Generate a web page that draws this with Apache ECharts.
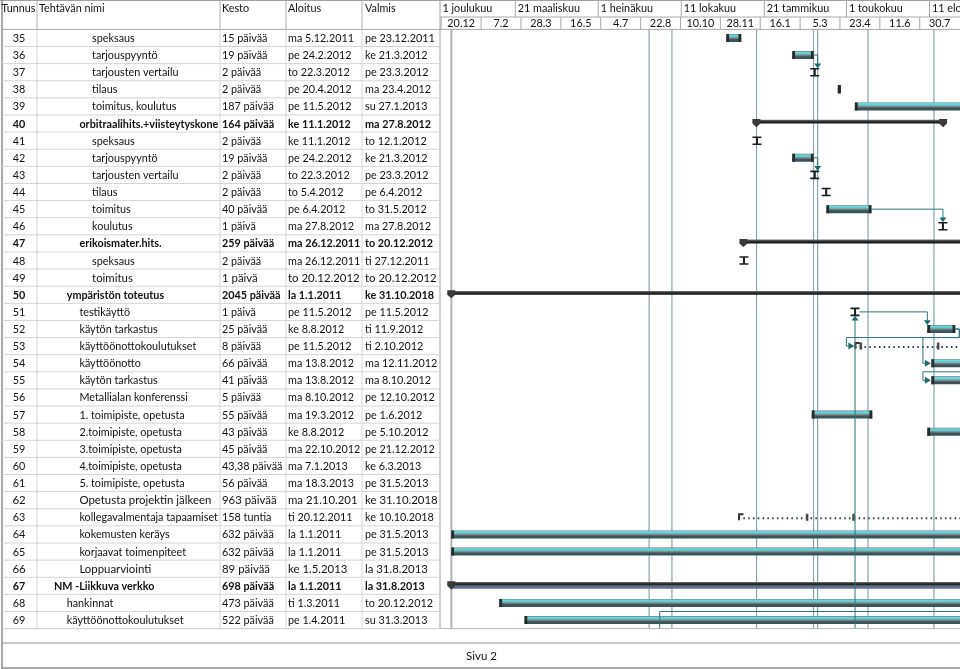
<!DOCTYPE html>
<html><head><meta charset="utf-8">
<script src="https://cdn.jsdelivr.net/npm/echarts@6/dist/echarts.min.js"></script>
<style>html,body{margin:0;padding:0;background:#fff}#c{width:960px;height:669px}</style>
</head><body><div id="c"></div>
<script>
// ---------------- data ----------------
const ids = [35,36,37,38,39,40,41,42,43,44,45,46,47,48,49,50,51,52,53,54,55,56,57,58,59,60,61,62,63,64,65,66,67,68,69];
const names = ['speksaus','tarjouspyyntö','tarjousten vertailu','tilaus','toimitus, koulutus','orbitraalihits.+viisteytyskone',
  'speksaus','tarjouspyyntö','tarjousten vertailu','tilaus','toimitus','koulutus','erikoismater.hits.','speksaus','toimitus',
  'ympäristön toteutus','testikäyttö','käytön tarkastus','käyttöönottokoulutukset','käyttöönotto','käytön tarkastus',
  'Metallialan konferenssi','1. toimipiste, opetusta','2.toimipiste, opetusta','3.toimipiste, opetusta','4.toimipiste, opetusta',
  '5. toimipiste, opetusta','Opetusta projektin jälkeen','kollegavalmentaja tapaamiset','kokemusten keräys','korjaavat toimenpiteet',
  'Loppuarviointi','NM -Liikkuva verkko','hankinnat','käyttöönottokoulutukset'];
const durations = ['15 päivää','19 päivää','2 päivää','2 päivää','187 päivää','164 päivää','2 päivää','19 päivää','2 päivää','2 päivää',
  '40 päivää','1 päivä','259 päivää','2 päivää','1 päivä','2045 päivää','1 päivä','25 päivää','8 päivää','66 päivää','41 päivää',
  '5 päivää','55 päivää','43 päivää','45 päivää','43,38 päivää','56 päivää','963 päivää','158 tuntia','632 päivää','632 päivää',
  '89 päivää','698 päivää','473 päivää','522 päivää'];
const startTexts = ['ma 5.12.2011','pe 24.2.2012','to 22.3.2012','pe 20.4.2012','pe 11.5.2012','ke 11.1.2012','ke 11.1.2012',
  'pe 24.2.2012','to 22.3.2012','to 5.4.2012','pe 6.4.2012','ma 27.8.2012','ma 26.12.2011','ma 26.12.2011','to 20.12.2012',
  'la 1.1.2011','pe 11.5.2012','ke 8.8.2012','pe 11.5.2012','ma 13.8.2012','ma 13.8.2012','ma 8.10.2012','ma 19.3.2012',
  'ke 8.8.2012','ma 22.10.2012','ma 7.1.2013','ma 18.3.2013','ma 21.10.2013','ti 20.12.2011','la 1.1.2011','la 1.1.2011',
  'ke 1.5.2013','la 1.1.2011','ti 1.3.2011','pe 1.4.2011'];
const endTexts = ['pe 23.12.2011','ke 21.3.2012','pe 23.3.2012','ma 23.4.2012','su 27.1.2013','ma 27.8.2012','to 12.1.2012',
  'ke 21.3.2012','pe 23.3.2012','pe 6.4.2012','to 31.5.2012','ma 27.8.2012','to 20.12.2012','ti 27.12.2011','to 20.12.2012',
  'ke 31.10.2018','pe 11.5.2012','ti 11.9.2012','ti 2.10.2012','ma 12.11.2012','ma 8.10.2012','pe 12.10.2012','pe 1.6.2012',
  'pe 5.10.2012','pe 21.12.2012','ke 6.3.2013','pe 31.5.2013','ke 31.10.2018','ke 10.10.2018','pe 31.5.2013','pe 31.5.2013',
  'la 31.8.2013','la 31.8.2013','to 20.12.2012','su 31.3.2013'];
const outlineLevels = [4,4,4,4,4,3,4,4,4,4,4,4,3,4,4,2,3,3,3,3,3,3,3,3,3,3,3,3,3,3,3,3,1,2,2];
const summaryRows = [40,47,50,67];
const largeTextRows = [49,62,66];
const splitRows = [53,63];
const splitPieces = {53: [['11.5.2012','11.5.2012'],['18.5.2012','18.5.2012'],['21.8.2012','21.8.2012']],
                     63: [['20.12.2011','20.12.2011'],['13.3.2012','13.3.2012'],['9.5.2012','9.5.2012']]};
const links = [[36,37],[42,43],[45,46],[51,52],[52,53],[52,54],[54,55]];
const incomingFromBelow = [51];
const outgoingFromBelow = [{date:'14.9.2011', row:69}];
const linkLineDates = ['1.9.2011','29.9.2011','11.1.2012','21.3.2012','26.3.2012','27.5.2012','16.8.2012'];
const projectStartDate = '1.1.2011';
const columnTitles = ['Tunnus','Tehtävän nimi','Kesto','Aloitus','Valmis'];
const majorTickDates = ['1.12.2010','21.3.2011','1.7.2011','11.10.2011','21.1.2012','1.5.2012','11.8.2012'];
const majorTickLabels = ['1 joulukuu','21 maaliskuu','1 heinäkuu','11 lokakuu','21 tammikuu','1 toukokuu','11 elokuu'];
const minorTickDates = ['20.12.2010','7.2.2011','28.3.2011','16.5.2011','4.7.2011','22.8.2011','10.10.2011','28.11.2011',
  '16.1.2012','5.3.2012','23.4.2012','11.6.2012','30.7.2012'];
const minorTickLabels = ['20.12','7.2','28.3','16.5','4.7','22.8','10.10','28.11','16.1','5.3','23.4','11.6','30.7'];
const footerText = 'Sivu 2';

// ---------------- helpers ----------------
const DAY = 86400000;
function parseDate(txt, hour) {
  const m = txt.match(/(\d{1,2})\.(\d{1,2})\.(\d{4})/);
  return Date.UTC(+m[3], +m[2] - 1, +m[1], hour || 0);
}
const axisMin = Date.UTC(2010, 11, 18, 12);
const axisMax = Date.UTC(2012, 8, 17, 12);
const TOP = 29.4, H = 599.2, BAND = H / ids.length;
const GL = 440, GR = 960;
const FONT = "Lato, 'Open Sans', sans-serif";
const TXT = '#111';

const barFill = () => new echarts.graphic.LinearGradient(0, 0, 0, 1, [
  {offset: 0, color: '#5f7477'}, {offset: 0.14, color: '#72d8dc'}, {offset: 0.38, color: '#5cc3c8'},
  {offset: 0.5, color: '#7f898b'}, {offset: 0.72, color: '#454f51'}, {offset: 1, color: '#2a5c62'}]);
const sumFill = () => new echarts.graphic.LinearGradient(0, 0, 0, 1, [
  {offset: 0, color: '#777'}, {offset: 0.4, color: '#333'}, {offset: 1, color: '#111'}]);

function isShort(i) {
  return parseDate(endTexts[i], 17) - parseDate(startTexts[i], 8) < 2 * DAY;
}

// ---------------- table ----------------
function renderTableRow(params, api) {
  const i = params.dataIndex;
  const y = api.coord([0, i])[1];
  const id = ids[i];
  const bold = summaryRows.includes(id);
  const big = largeTextRows.includes(id);
  const fs = big ? 11.4 : 10.8;
  const font = (bold ? 'bold ' : '') + fs + 'px ' + FONT;
  const nameX = 54 + (outlineLevels[i] - 1) * 12.7;
  const mk = (text, x, w, align) => {
    const st = {text, x, y: y + 0.5, font, fill: TXT, align: align || 'left', verticalAlign: 'middle'};
    if (w) { st.width = w; st.overflow = 'truncate'; st.ellipsis = ''; }
    return {type: 'text', silent: true, style: st};
  };
  return {type: 'group', children: [
    {type: 'line', silent: true, shape: {x1: 2, y1: y + BAND / 2, x2: GL, y2: y + BAND / 2}, style: {stroke: '#d4d4d4', lineWidth: 1}},
    mk(String(id), 19, 0, 'center'),
    mk(names[i], nameX, 221 - nameX),
    mk(durations[i], 222, 64),
    mk(startTexts[i], 288, 75),
    mk(endTexts[i], 365, 76)
  ]};
}

// ---------------- gantt tasks ----------------
function renderTask(params, api) {
  const i = params.dataIndex;
  const id = ids[i];
  const s = parseDate(startTexts[i], 8), e = parseDate(endTexts[i], 17);
  const p0 = api.coord([s, i]);
  const x0 = p0[0], y = p0[1];
  const x1 = api.coord([e, i])[0];
  const ch = [];
  if (summaryRows.includes(id)) {
    ch.push({type: 'rect', shape: {x: x0, y: y - 3.8, width: x1 - x0, height: 3.8}, style: {fill: sumFill()}});
    if (outlineLevels[i] === 1) {
      ch.push({type: 'rect', shape: {x: x0, y: y, width: x1 - x0, height: 3}, style: {fill: '#5f6f98'}});
    }
    [x0, x1].forEach(x => ch.push({type: 'polygon', shape: {points: [[x - 4, y - 4.5], [x + 4, y - 4.5], [x + 4, y], [x, y + 3.6], [x - 4, y]]}, style: {fill: '#3a3a3a'}}));
  } else if (splitRows.includes(id)) {
    ch.push({type: 'line', shape: {x1: x0, y1: y + 1, x2: x1, y2: y + 1}, style: {stroke: '#2f4a4d', lineWidth: 2, lineDash: [1.6, 3.2]}});
    (splitPieces[id] || []).forEach((pc, k) => {
      const a = api.coord([parseDate(pc[0], 8), i])[0];
      if (k === 0) {
        ch.push({type: 'polyline', shape: {points: [[a + 0.5, y + 3], [a + 0.5, y - 3], [a + 5, y - 3]]}, style: {stroke: '#333', lineWidth: 2, fill: null}});
      } else {
        ch.push({type: 'rect', shape: {x: a - 1, y: y - 3.5, width: 2.5, height: 7}, style: {fill: '#4a4a4a'}});
      }
    });
  } else if (isShort(i)) {
    const c = (x0 + x1) / 2;
    const st = {stroke: '#1c1c1c', lineWidth: 1.6};
    ch.push({type: 'line', shape: {x1: c - 4.5, y1: y - 3.5, x2: c + 4.5, y2: y - 3.5}, style: st});
    ch.push({type: 'line', shape: {x1: c - 4.5, y1: y + 3.5, x2: c + 4.5, y2: y + 3.5}, style: st});
    ch.push({type: 'line', shape: {x1: c, y1: y - 3.5, x2: c, y2: y + 3.5}, style: {stroke: '#1c1c1c', lineWidth: 2}});
  } else {
    const w = Math.max(x1 - x0, 3);
    ch.push({type: 'rect', shape: {x: x0, y: y - 4, width: w, height: 8}, style: {fill: barFill()}});
    ch.push({type: 'rect', shape: {x: x0, y: y - 4, width: 2.8, height: 8}, style: {fill: '#2a2a2a'}});
    ch.push({type: 'rect', shape: {x: x0 + w - 2.8, y: y - 4, width: 2.8, height: 8}, style: {fill: '#2a2a2a'}});
  }
  return {type: 'group', children: ch};
}

// ---------------- link lines ----------------
const LINK = '#2d7479', ARROW = '#1d6a70';
function geom(api, id) {
  const i = ids.indexOf(id);
  const s = parseDate(startTexts[i], 8), e = parseDate(endTexts[i], 17);
  const y = api.coord([s, i])[1];
  let xs = api.coord([s, i])[0], xe = api.coord([e, i])[0], xin = xs;
  if (isShort(i)) { const c = (xs + xe) / 2; xin = c; xe = c + 4.5; }
  return {s, e, xs, xe, xin, y};
}
const linkItems = links.map(l => ({kind: 'fs', from: l[0], to: l[1]}))
  .concat(incomingFromBelow.map(r => ({kind: 'below', to: r})))
  .concat(outgoingFromBelow.map(o => ({kind: 'belowRight', date: o.date, row: o.row})));

function renderLink(params, api) {
  const it = linkItems[params.dataIndex];
  const cs = params.coordSys;
  const bottom = cs.y + cs.height;
  const ch = [];
  const ls = {stroke: LINK, lineWidth: 1, fill: null};
  if (it.kind === 'fs') {
    const p = geom(api, it.from), q = geom(api, it.to);
    if (q.s >= p.e) {
      const xa = Math.max(q.xin, p.xe + 4);
      ch.push({type: 'polyline', shape: {points: [[p.xe, p.y], [xa, p.y], [xa, q.y - 8]]}, style: ls});
      ch.push({type: 'polygon', shape: {points: [[xa - 3.5, q.y - 8.8], [xa + 3.5, q.y - 8.8], [xa, q.y - 4]]}, style: {fill: ARROW}});
    } else {
      const xr = p.xe + 4, ym = p.y + BAND / 2, xb = q.xin - 8.5;
      ch.push({type: 'polyline', shape: {points: [[p.xe, p.y], [xr, p.y], [xr, ym], [xb, ym], [xb, q.y], [q.xin - 6, q.y]]}, style: ls});
      ch.push({type: 'polygon', shape: {points: [[q.xin - 6.5, q.y - 3.5], [q.xin - 6.5, q.y + 3.5], [q.xin - 0.5, q.y]]}, style: {fill: ARROW}});
    }
  } else if (it.kind === 'below') {
    const q = geom(api, it.to);
    ch.push({type: 'line', shape: {x1: q.xin, y1: bottom, x2: q.xin, y2: q.y + 8}, style: ls});
    ch.push({type: 'polygon', shape: {points: [[q.xin - 3.5, q.y + 8.5], [q.xin + 3.5, q.y + 8.5], [q.xin, q.y + 3.8]]}, style: {fill: ARROW}});
  } else {
    const i = ids.indexOf(it.row);
    const pt = api.coord([parseDate(it.date, 12), i]);
    const yb = pt[1] - BAND / 2;
    ch.push({type: 'polyline', shape: {points: [[pt[0], bottom], [pt[0], yb], [cs.x + cs.width, yb]]}, style: ls});
  }
  return {type: 'group', children: ch};
}

function renderVLine(params, api) {
  const cs = params.coordSys;
  const x = api.coord([api.value(0), 0])[0];
  const isStart = params.dataIndex === linkLineDates.length;
  return {type: 'line', shape: {x1: x, y1: cs.y, x2: x, y2: cs.y + cs.height},
    style: {stroke: isStart ? '#b4b4b4' : '#86a6ac', lineWidth: isStart ? 2 : 1.2}};
}

// ---------------- timescale header ----------------
const headerCells = majorTickDates.map((d, k) => ({tier: 0, k, date: d, label: majorTickLabels[k], list: majorTickDates}))
  .concat(minorTickDates.map((d, k) => ({tier: 1, k, date: d, label: minorTickLabels[k], list: minorTickDates})));
function renderHeader(params, api) {
  const c = headerCells[params.dataIndex];
  const t = parseDate(c.date, 0);
  const x = api.coord([t, 0])[0];
  let tn;
  if (c.k + 1 < c.list.length) tn = parseDate(c.list[c.k + 1], 0);
  else tn = t + (t - parseDate(c.list[c.k - 1], 0));
  const xn = api.coord([tn, 0])[0];
  const left = Math.max(x, GL);
  const y0 = c.tier === 0 ? 0 : 17, y1 = c.tier === 0 ? 17 : TOP;
  const ch = [];
  if (x >= GL) ch.push({type: 'line', shape: {x1: x, y1: y0, x2: x, y2: y1}, style: {stroke: '#a8a8a8', lineWidth: 1}});
  const font = '10.8px ' + FONT;
  if (c.tier === 0) ch.push({type: 'text', style: {text: c.label, x: left + 2.5, y: 8.8, font, fill: TXT, align: 'left', verticalAlign: 'middle'}});
  else ch.push({type: 'text', style: {text: c.label, x: (left + xn) / 2, y: 23.6, font, fill: TXT, align: 'center', verticalAlign: 'middle'}});
  return {type: 'group', children: ch};
}

// ---------------- static frame ----------------
const colBorders = [37, 220, 286, 362];
const colTitleX = [1.5, 39, 222, 288, 365];
const graphics = [];
const gl = (x1, y1, x2, y2, stroke, w) => graphics.push({type: 'line', silent: true, z: 0, shape: {x1, y1, x2, y2}, style: {stroke, lineWidth: w || 1}});
colBorders.forEach(x => { gl(x, 0, x, TOP, '#b0b0b0'); gl(x, TOP, x, TOP + H, '#d6d6d6'); });
gl(GL, 0, GL, TOP + H, '#a0a0a0');
gl(0, 0.5, GR, 0.5, '#a0a0a0');
gl(2, TOP, GR, TOP, '#a8a8a8');
gl(GL, 17, GR, 17, '#a8a8a8');
gl(2, TOP + H, GR, TOP + H, '#b4b4b4');
gl(2, 643, GR, 643, '#8c8c8c');
gl(2, 668, GR, 668, '#8c8c8c', 1.5);
gl(2, 0, 2, 669, '#8c8c8c', 1.5);
columnTitles.forEach((t, k) => graphics.push({type: 'text', silent: true, z: 5, style: {text: t, x: colTitleX[k], y: 9, font: '10.8px ' + FONT, fill: TXT, verticalAlign: 'middle'}}));
graphics.push({type: 'text', silent: true, z: 5, style: {text: footerText, x: 466, y: 656, font: '11.5px ' + FONT, fill: TXT, verticalAlign: 'middle'}});

// ---------------- chart ----------------
const chart = echarts.init(document.getElementById('c'), null, {renderer: 'canvas', width: 960, height: 669});
const catIdx = ids.map((_, i) => i);
chart.setOption({
  animation: false,
  backgroundColor: '#fff',
  grid: [
    {left: 0, top: TOP, width: GL, height: H},
    {left: GL, top: TOP, width: GR - GL, height: H}
  ],
  xAxis: [
    {type: 'value', gridIndex: 0, min: 0, max: GL, show: false},
    {type: 'time', gridIndex: 1, min: axisMin, max: axisMax, show: false}
  ],
  yAxis: [
    {type: 'category', gridIndex: 0, data: ids.map(String), inverse: true, show: false},
    {type: 'category', gridIndex: 1, data: ids.map(String), inverse: true, show: false}
  ],
  graphic: graphics,
  series: [
    {type: 'custom', xAxisIndex: 0, yAxisIndex: 0, renderItem: renderTableRow, data: catIdx.map(i => [0, i]), silent: true, z: 2},
    {type: 'custom', xAxisIndex: 1, yAxisIndex: 1, renderItem: renderHeader, clip: false,
      data: headerCells.map(() => [axisMin, 0]), silent: true, z: 2},
    {type: 'custom', xAxisIndex: 1, yAxisIndex: 1, renderItem: renderVLine, clip: true,
      data: linkLineDates.concat([projectStartDate]).map(d => [parseDate(d, 12), 0]), silent: true, z: 1},
    {type: 'custom', xAxisIndex: 1, yAxisIndex: 1, renderItem: renderTask, clip: true,
      data: catIdx.map(i => [parseDate(startTexts[i], 8), i]), silent: true, z: 3},
    {type: 'custom', xAxisIndex: 1, yAxisIndex: 1, renderItem: renderLink, clip: true,
      data: linkItems.map(() => [axisMin, 0]), silent: true, z: 4}
  ]
});
</script></body></html>
